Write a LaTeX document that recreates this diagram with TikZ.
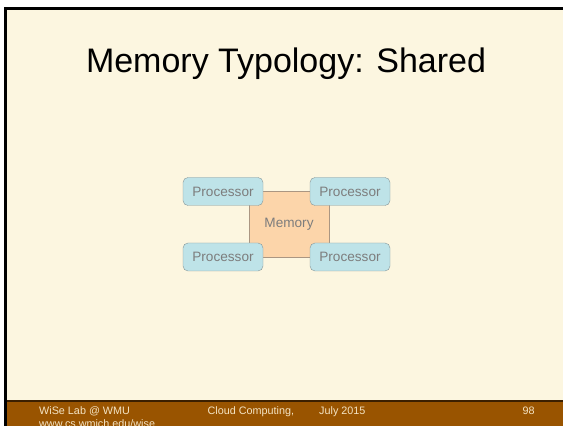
\documentclass[tikz,border=0pt]{standalone}
\usepackage{fontspec}
\setmainfont{Liberation Sans}
\definecolor{slidebg}{RGB}{252,246,224}
\definecolor{footbrown}{RGB}{153,84,0}
\definecolor{footline}{RGB}{60,32,0}
\definecolor{foottext}{RGB}{244,228,196}
\definecolor{procfill}{RGB}{190,227,232}
\definecolor{procline}{RGB}{135,150,152}
\definecolor{memfill}{RGB}{252,213,170}
\definecolor{memline}{RGB}{170,150,130}
\definecolor{labelgray}{RGB}{125,125,125}
\begin{document}
\begin{tikzpicture}[x=1pt,y=1pt,
    procbox/.style={draw=procline,fill=procfill,rounded corners=5pt,
        minimum width=80pt,minimum height=28pt,inner sep=0pt,
        text=labelgray,font=\fontsize{13.6}{16}\selectfont},
    membox/.style={draw=memline,fill=memfill,
        minimum width=80pt,minimum height=66pt,inner sep=0pt,
        text=labelgray,font=\fontsize{13.6}{16}\selectfont},
    foot/.style={anchor=base west,inner sep=0pt,text=foottext,
        font=\fontsize{10.8}{13}\selectfont}]
    \useasboundingbox (0,0) rectangle (563,426);
    \fill[white] (0,0) rectangle (563,426);
    \fill[slidebg] (7,0) rectangle (563,416);
    \fill[black] (4,0) rectangle (7,419);
    \fill[black] (4,416) rectangle (563,419);
    \fill[footbrown] (7,0) rectangle (563,24);
    \fill[footline] (7,24) rectangle (563,26);
    % title
    \node[anchor=base,inner sep=0pt,font=\fontsize{34}{40}\selectfont] (title) at (286,353) {Memory Typology: Shared};
    % shared memory with four processors
    \node[membox] (mem) at (289,202) {Memory};
    \node[procbox] (p1) at (223,234.5) {Processor};
    \node[procbox] (p2) at (350,234.5) {Processor};
    \node[procbox] (p3) at (223,169) {Processor};
    \node[procbox] (p4) at (350,169) {Processor};
    % footer
    \node[foot] (lab) at (39,11) {WiSe Lab @ WMU};
    \node[foot] (url) at (39,-2) {www.cs.wmich.edu/wise};
    \node[foot] (course) at (207.5,11) {Cloud Computing,};
    \node[foot] (date) at (319,11) {July 2015};
    \node[foot] (page) at (522.5,11) {98};
\end{tikzpicture}
\end{document}
